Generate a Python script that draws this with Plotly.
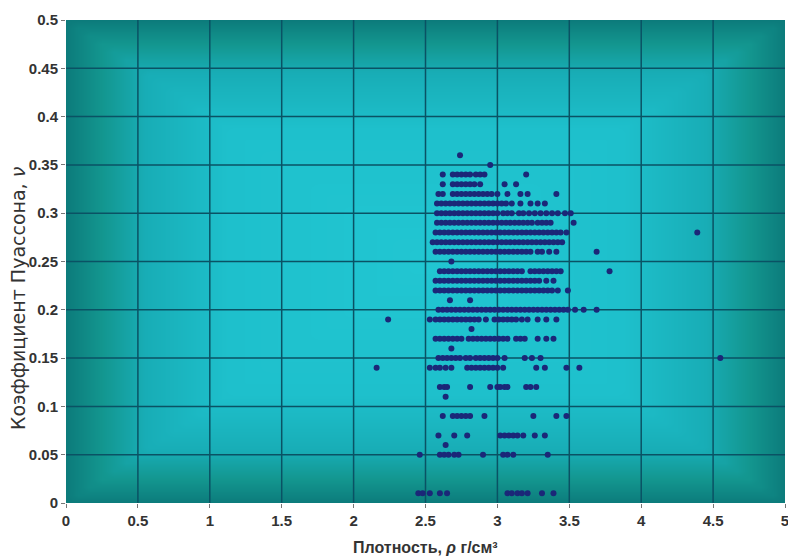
import numpy as np
import plotly.graph_objects as go

# ---- data: density (g/cm3) values per Poisson-ratio row ----
x_036 = [2.74]
x_035 = [2.95]
x_034 = [2.62, 2.69, 2.72, 2.75, 2.78, 2.81, 2.85, 2.88, 2.91, 3.20]
x_033 = [2.62, 2.69, 2.72, 2.75, 2.78, 2.81, 2.84, 2.88, 3.05, 3.13]
x_032 = [2.59, 2.62, 2.69, 2.72, 2.75, 2.78, 2.81, 2.84, 2.87, 2.90, 2.93, 2.96,
         3.00, 3.07, 3.16, 3.21, 3.41]
x_031 = [2.58, 2.61, 2.64, 2.67, 2.70, 2.73, 2.76, 2.79, 2.82, 2.85, 2.88, 2.91,
         2.94, 2.97, 3.00, 3.03, 3.06, 3.10, 3.16, 3.23, 3.28, 3.33]
x_030 = [2.58, 2.61, 2.64, 2.67, 2.70, 2.73, 2.76, 2.79, 2.82, 2.85, 2.88, 2.91,
         2.94, 2.97, 3.00, 3.04, 3.07, 3.10, 3.15, 3.18, 3.22, 3.26, 3.30, 3.34,
         3.38, 3.42, 3.47, 3.51]
x_029 = [2.58, 2.61, 2.64, 2.67, 2.70, 2.73, 2.76, 2.79, 2.82, 2.85, 2.88, 2.91,
         2.94, 2.97, 3.00, 3.03, 3.06, 3.09, 3.12, 3.15, 3.18, 3.21, 3.24, 3.28,
         3.31, 3.34, 3.37, 3.53]
x_028 = [2.57, 2.60, 2.63, 2.66, 2.69, 2.72, 2.75, 2.78, 2.81, 2.84, 2.87, 2.90,
         2.93, 2.96, 2.99, 3.02, 3.05, 3.08, 3.11, 3.14, 3.17, 3.20, 3.23, 3.26,
         3.29, 3.32, 3.35, 3.38, 3.41, 3.44, 3.48, 4.39]
x_027 = [2.55, 2.58, 2.61, 2.64, 2.67, 2.70, 2.73, 2.76, 2.79, 2.82, 2.85, 2.88,
         2.91, 2.94, 2.97, 3.00, 3.03, 3.06, 3.09, 3.12, 3.15, 3.18, 3.21, 3.24,
         3.27, 3.30, 3.33, 3.36, 3.39, 3.42, 3.45]
x_026 = [2.57, 2.60, 2.63, 2.66, 2.69, 2.72, 2.75, 2.78, 2.81, 2.84, 2.87, 2.90,
         2.93, 2.96, 2.99, 3.02, 3.05, 3.08, 3.11, 3.14, 3.17, 3.20, 3.23, 3.28,
         3.31, 3.36, 3.41, 3.69]
x_025 = [2.68]
x_024 = [2.60, 2.63, 2.66, 2.69, 2.72, 2.75, 2.78, 2.81, 2.84, 2.87, 2.90, 2.93,
         2.96, 2.99, 3.02, 3.05, 3.08, 3.11, 3.14, 3.17, 3.23, 3.26, 3.29, 3.32,
         3.35, 3.38, 3.41, 3.44, 3.78]
x_023 = [2.57, 2.60, 2.63, 2.66, 2.69, 2.72, 2.75, 2.78, 2.81, 2.84, 2.87, 2.90,
         2.93, 2.96, 2.99, 3.02, 3.05, 3.08, 3.11, 3.14, 3.17, 3.20, 3.23, 3.26,
         3.29, 3.34, 3.39]
x_022 = [2.57, 2.60, 2.63, 2.66, 2.69, 2.72, 2.75, 2.78, 2.81, 2.84, 2.87, 2.90,
         2.93, 2.96, 2.99, 3.02, 3.05, 3.08, 3.11, 3.14, 3.17, 3.20, 3.23, 3.26,
         3.29, 3.32, 3.35, 3.38, 3.42, 3.49]
x_021 = [2.67, 2.81]
x_020 = [2.59, 2.62, 2.65, 2.68, 2.71, 2.74, 2.77, 2.80, 2.83, 2.86, 2.89, 2.92,
         2.95, 2.98, 3.01, 3.04, 3.07, 3.10, 3.13, 3.16, 3.19, 3.22, 3.25, 3.28,
         3.31, 3.34, 3.37, 3.40, 3.43, 3.46, 3.49, 3.54, 3.60, 3.69]
x_019 = [2.24, 2.53, 2.57, 2.60, 2.63, 2.66, 2.69, 2.72, 2.75, 2.78, 2.81, 2.84,
         2.87, 2.92, 2.98, 3.01, 3.04, 3.07, 3.10, 3.13, 3.17, 3.21, 3.28, 3.34,
         3.41]
x_018 = [2.82]
x_017 = [2.57, 2.60, 2.63, 2.66, 2.69, 2.72, 2.75, 2.80, 2.83, 2.86, 2.89, 2.92,
         2.95, 2.98, 3.01, 3.04, 3.07, 3.13, 3.16, 3.19, 3.28, 3.34, 3.39]
x_016 = [2.68]
x_015 = [2.59, 2.62, 2.65, 2.68, 2.71, 2.74, 2.78, 2.81, 2.85, 2.88, 2.91, 2.94,
         2.97, 3.00, 3.05, 3.19, 3.24, 3.30, 4.55]
x_014 = [2.16, 2.53, 2.57, 2.60, 2.64, 2.68, 2.79, 2.82, 2.85, 2.88, 2.91, 2.94,
         2.97, 3.00, 3.04, 3.27, 3.33, 3.48, 3.57]
x_012 = [2.60, 2.63, 2.65, 2.81, 2.95, 3.00, 3.02, 3.05, 3.07, 3.20, 3.23, 3.27]
x_011 = [2.64]
x_009 = [2.62, 2.69, 2.72, 2.75, 2.78, 2.81, 2.91, 3.25, 3.41, 3.48]
x_007 = [2.59, 2.70, 2.79, 3.02, 3.05, 3.08, 3.11, 3.14, 3.18, 3.26, 3.33]
x_006 = [2.64]
x_005 = [2.46, 2.60, 2.63, 2.66, 2.70, 2.73, 2.90, 3.04, 3.07, 3.11, 3.35]
x_001 = [2.45, 2.48, 2.53, 2.60, 2.65, 3.07, 3.10, 3.14, 3.17, 3.21, 3.31, 3.39]

poisson_levels = [0.36, 0.35, 0.34, 0.33, 0.32, 0.31, 0.30, 0.29, 0.28, 0.27,
                  0.26, 0.25, 0.24, 0.23, 0.22, 0.21, 0.20, 0.19, 0.18, 0.17,
                  0.16, 0.15, 0.14, 0.12, 0.11, 0.09, 0.07, 0.06, 0.05, 0.01]
density_rows = [x_036, x_035, x_034, x_033, x_032, x_031, x_030, x_029, x_028,
                x_027, x_026, x_025, x_024, x_023, x_022, x_021, x_020, x_019,
                x_018, x_017, x_016, x_015, x_014, x_012, x_011, x_009, x_007,
                x_006, x_005, x_001]

x_ticks = [0, 0.5, 1, 1.5, 2, 2.5, 3, 3.5, 4, 4.5, 5]
x_ticklabels = ["0", "0.5", "1", "1.5", "2", "2.5", "3", "3.5", "4", "4.5", "5"]
y_ticks = [0, 0.05, 0.1, 0.15, 0.2, 0.25, 0.3, 0.35, 0.4, 0.45, 0.5]
y_ticklabels = ["0", "0.05", "0.1", "0.15", "0.2", "0.25", "0.3", "0.35", "0.4", "0.45", "0.5"]

density = []
poisson = []
for lvl, row in zip(poisson_levels, density_rows):
    density.extend(row)
    poisson.extend([lvl] * len(row))

X_MIN, X_MAX = x_ticks[0], x_ticks[-1]
Y_MIN, Y_MAX = y_ticks[0], y_ticks[-1]

fig = go.Figure()

# background "from centre" gradient (style only)
gx = np.linspace(X_MIN, X_MAX, 61)
gy = np.linspace(Y_MIN, Y_MAX, 61)
GX, GY = np.meshgrid(gx, gy)
cx, cy = (X_MIN + X_MAX) / 2, (Y_MIN + Y_MAX) / 2
GZ = np.maximum(np.abs(GX - cx) / (X_MAX - cx), np.abs(GY - cy) / (Y_MAX - cy))
fig.add_trace(go.Heatmap(
    x=gx, y=gy, z=GZ, zmin=0, zmax=1, zsmooth="best", showscale=False,
    hoverinfo="skip",
    colorscale=[[0, "#21c6d2"], [0.55, "#1ec0cc"], [0.78, "#18adb6"],
                [0.9, "#13968f"], [1, "#0c7b7b"]],
))

# grid lines
gl_x, gl_y = [], []
for t in x_ticks[1:-1]:
    gl_x += [t, t, None]
    gl_y += [Y_MIN, Y_MAX, None]
for t in y_ticks[1:-1]:
    gl_x += [X_MIN, X_MAX, None]
    gl_y += [t, t, None]
fig.add_trace(go.Scatter(x=gl_x, y=gl_y, mode="lines", hoverinfo="skip",
                         line=dict(color="#0a5264", width=1.5), showlegend=False))

fig.add_trace(go.Scatter(
    x=density, y=poisson, mode="markers", showlegend=False,
    marker=dict(color="#1b2778", size=6, line=dict(width=0)),
))

tick_font = dict(family="Liberation Sans Narrow, Arial Narrow, Liberation Sans, Arial",
                 size=15, color="#333333", weight="bold")

fig.update_layout(
    width=788, height=558,
    margin=dict(l=66, r=3, t=20, b=55),
    paper_bgcolor="white", plot_bgcolor="#0c7b7b",
    showlegend=False,
    xaxis=dict(range=[X_MIN, X_MAX], tickvals=x_ticks, ticktext=x_ticklabels,
               showgrid=False, zeroline=False, ticks="outside", ticklen=4,
               tickcolor="#777777", tickfont=tick_font, showline=False,
               ticklabeloverflow="allow", automargin=False),
    yaxis=dict(range=[Y_MIN, Y_MAX], tickvals=y_ticks, ticktext=y_ticklabels,
               showgrid=False, zeroline=False, ticks="outside", ticklen=4,
               tickcolor="#777777", tickfont=tick_font, showline=False,
               ticklabeloverflow="allow", automargin=False),
    annotations=[
        dict(text="Плотность, <i>ρ</i> г/см³", xref="paper", yref="paper",
             x=0.5, y=-0.092, xanchor="center", yanchor="middle", showarrow=False,
             font=dict(family="Liberation Sans Narrow, Arial Narrow, Liberation Sans, Arial",
                       size=16, color="#333333", weight="bold")),
        dict(text="Коэффициент Пуассона, <i>ν</i>", xref="paper", yref="paper",
             x=-0.067, y=0.424, xanchor="center", yanchor="middle", showarrow=False,
             textangle=-90,
             font=dict(family="DejaVu Sans, Liberation Sans", size=19, color="#333333")),
    ],
)

fig.write_html("out.html")
